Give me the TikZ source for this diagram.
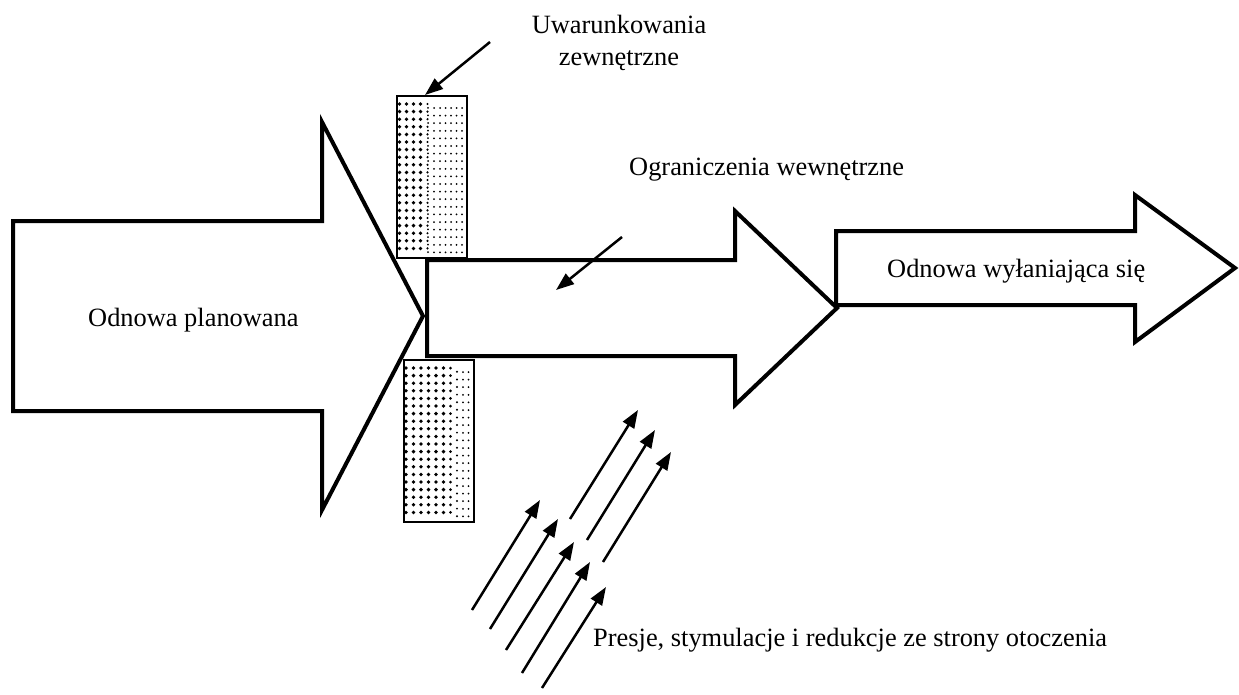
\documentclass[tikz,border=0pt]{standalone}
\usepackage{fontspec}
\setmainfont{Liberation Serif}
\usetikzlibrary{arrows.meta}
\begin{document}
\begin{tikzpicture}[x=1pt,y=-1pt,
  bigarrow/.style={draw=black,line width=4pt,fill=white,line join=miter},
  screen/.style={draw=black,line width=1.8pt,fill=white,inner sep=0pt,anchor=north west},
  label/.style={font=\fontsize{26.4}{32}\selectfont,inner sep=0pt,anchor=base west},
  clabel/.style={label,anchor=base},
  pointer/.style={line width=2.5pt,-{Triangle[length=18pt,width=13pt]}},
]
\useasboundingbox (0,0) rectangle (1239,694);

% the three block arrows
\draw[bigarrow] (13,221) -- (322,221) -- (322,122) -- (423,316) -- (322,510)
  -- (322,411) -- (13,411) -- cycle;
\draw[bigarrow] (427,260) -- (735,260) -- (735,211) -- (837,308) -- (735,405)
  -- (735,356) -- (427,356) -- cycle;
\draw[bigarrow] (836,231) -- (1135,231) -- (1135,195) -- (1235,268) -- (1135,342)
  -- (1135,305) -- (836,305) -- cycle;

% screens with a halftone gradient
\node[screen,minimum width=70pt,minimum height=162pt] (upper) at (396,95) {};
\foreach \j in {0,...,19}{
  \foreach \x in {399.5,406.5,413.5,420.5}
    \fill (\x,{104+7.6*\j}) circle[radius=1.9pt];
  \fill (427.5,{104+7.6*\j}) circle[radius=1.2pt];
  \fill (428,{107.8+7.6*\j}) circle[radius=1.0pt];
  \foreach \x in {434,440,445.5,451,456.5,462}
    \fill (\x,{108+7.6*\j}) circle[radius=1.0pt];
}
\node[screen,minimum width=70pt,minimum height=162pt] (lower) at (403,359) {};
\foreach \j in {0,...,19}{
  \foreach \x in {406,413.5,421,428.5,436,443.5}
    \fill (\x,{368+7.6*\j}) circle[radius=1.9pt];
  \fill (450.5,{368+7.6*\j}) circle[radius=1.5pt];
  \fill (457,{371.8+7.6*\j}) circle[radius=1.1pt];
  \foreach \x in {463,468.5}
    \fill (\x,{372+7.6*\j}) circle[radius=1.0pt];
}

% labels
\node[clabel] (uwar1) at (619,33) {Uwarunkowania};
\node[clabel] (uwar2) at (619,65) {zewnętrzne};
\node[label] (ogr) at (629,175) {Ograniczenia wewnętrzne};
\node[label] (plan) at (88,326) {Odnowa planowana};
\node[label] (wyl) at (887,277) {Odnowa wyłaniająca się};
\node[label] (presje) at (593,646) {Presje, stymulacje i redukcje ze strony otoczenia};

% pointers
\coordinate (e1s) at (490,42);  \coordinate (e1e) at (425,95);
\coordinate (i1s) at (622,237); \coordinate (i1e) at (556,290);
\draw[pointer] (e1s) -- (e1e);
\draw[pointer] (i1s) -- (i1e);

% environmental pressures
\coordinate (p1s) at (472,610); \coordinate (p1e) at (540,500);
\coordinate (p2s) at (490,629); \coordinate (p2e) at (558,519);
\coordinate (p3s) at (506,650); \coordinate (p3e) at (574,542);
\coordinate (p4s) at (522,673); \coordinate (p4e) at (590,562);
\coordinate (p5s) at (542,688); \coordinate (p5e) at (606,587);
\coordinate (p6s) at (570,519); \coordinate (p6e) at (638,410);
\coordinate (p7s) at (587,540); \coordinate (p7e) at (655,430);
\coordinate (p8s) at (603,562); \coordinate (p8e) at (671,452);
\foreach \k in {1,...,8}
  \draw[pointer] (p\k s) -- (p\k e);
\end{tikzpicture}
\end{document}
